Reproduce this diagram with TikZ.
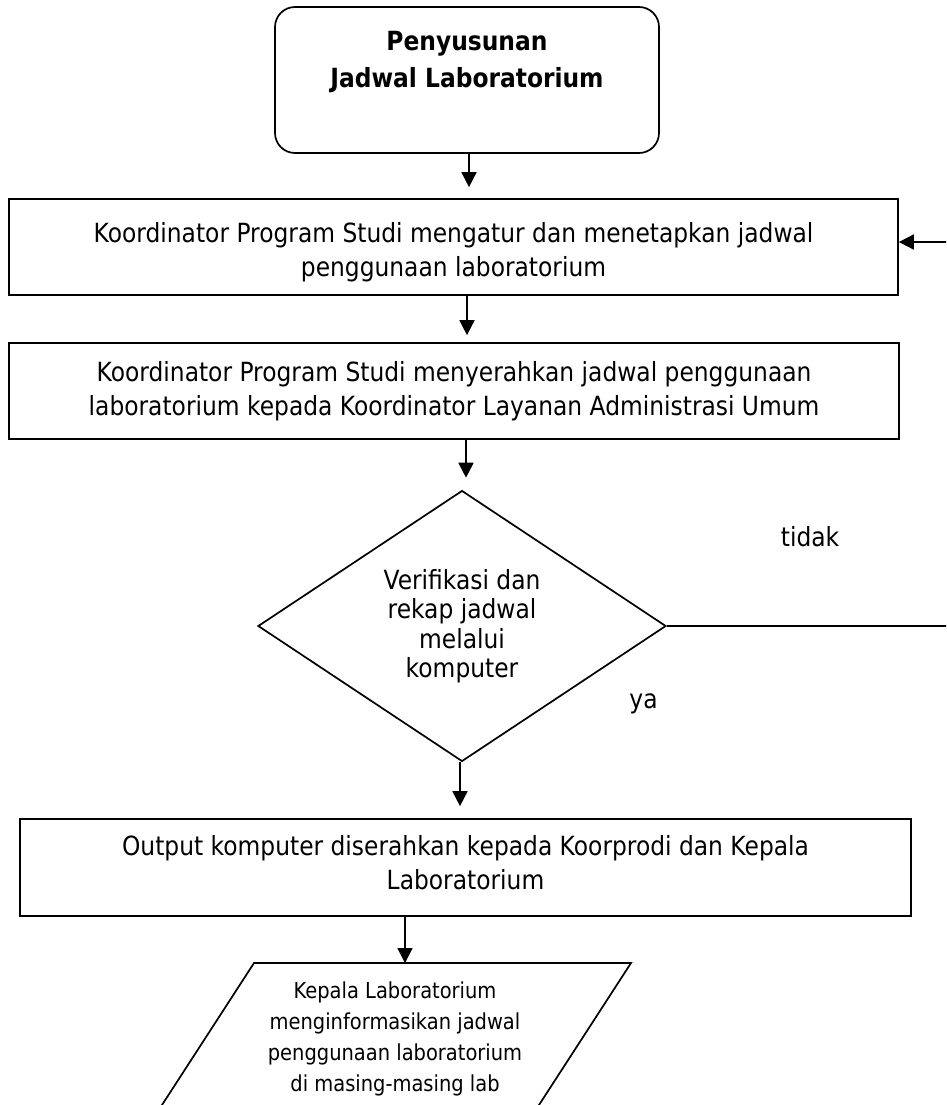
\documentclass[tikz,border=0pt]{standalone}
\usepackage{fontspec}
\setmainfont{DejaVu Sans}[FakeStretch=0.885]
\usetikzlibrary{arrows.meta,shapes.geometric}
\begin{document}
\begin{tikzpicture}[x=1pt,y=-1pt,line width=1.7pt,
  startbox/.style={draw,rectangle,rounded corners=20pt,inner sep=0pt},
  titletext/.style={align=center,inner sep=0pt,font=\bfseries\fontsize{26.4}{37}\selectfont},
  procbox/.style={draw,rectangle,inner sep=0pt,align=center,font=\fontsize{26.4}{33.5}\selectfont},
  decision/.style={draw,diamond,inner sep=0pt,align=center,font=\fontsize{26.4}{29.5}\selectfont},
  iotext/.style={align=center,inner sep=0pt,font=\fontsize{22}{31}\selectfont},
  lbl/.style={inner sep=0pt,font=\fontsize{26.4}{33.5}\selectfont},
  arr/.style={-{Triangle[width=15pt,length=15pt]}}]
\useasboundingbox (0,0) rectangle (946,1105);
\clip (0,0) rectangle (946,1105);

% nodes
\node[startbox,minimum width=384pt,minimum height=146pt] (start) at (467,80) {};
\node[titletext] (title) at (467,62) {Penyusunan\\Jadwal Laboratorium};
\node[procbox,minimum width=889pt,minimum height=96pt] (box1) at (453.5,247)
  {\rule{0pt}{30pt}Koordinator Program Studi mengatur dan menetapkan jadwal\\penggunaan laboratorium};
\node[procbox,minimum width=890pt,minimum height=96pt] (box2) at (454,391)
  {Koordinator Program Studi menyerahkan jadwal penggunaan\\laboratorium kepada Koordinator Layanan Administrasi Umum};
\node[decision,minimum width=408pt,minimum height=264pt] (dec) at (462,626)
  {Verifikasi dan\\rekap jadwal\\melalui\\komputer};
\node[procbox,minimum width=891pt,minimum height=97pt] (box3) at (465.5,867.5)
  {Output komputer diserahkan kepada Koorprodi dan Kepala\\Laboratorium\rule[-10pt]{0pt}{10pt}};

% parallelogram (bottom cut off by the page)
\coordinate (pTL) at (254,963);
\coordinate (pTR) at (631,963);
\coordinate (pBR) at (532.5,1115);
\coordinate (pBL) at (155.5,1115);
\draw (pBL) -- (pTL) -- (pTR) -- (pBR) -- cycle;
\node[iotext] (para) at (395,1039)
  {Kepala Laboratorium\\menginformasikan jadwal\\penggunaan laboratorium\\di masing-masing lab};

% labels
\node[lbl,anchor=base] (tidak) at (810,546) {tidak};
\node[lbl,anchor=base] (ya) at (643.5,708) {ya};

% arrow columns
\coordinate (c1) at (469,0);
\coordinate (c2) at (467,0);
\coordinate (c3) at (466,0);
\coordinate (c4) at (460,0);
\coordinate (ptop) at (405,963);
\coordinate (loopB) at (953,626);
\coordinate (loopT) at (953,242);

% connectors
\draw[arr,shorten >=11pt] (start.south -| c1) -- (box1.north -| c1);
\draw[arr,shorten >=7pt] (box1.south -| c2) -- (box2.north -| c2);
\draw[arr,shorten >=12pt] (box2.south -| c3) -- (dec.north -| c3);
\draw[arr,shorten >=12pt] (dec.south -| c4) -- (box3.north -| c4);
\draw[arr] (box3.south -| ptop) -- (ptop);
\draw[arr] (dec.east) -- (loopB) -- (loopT) -- (box1.east |- loopT);
\end{tikzpicture}
\end{document}
